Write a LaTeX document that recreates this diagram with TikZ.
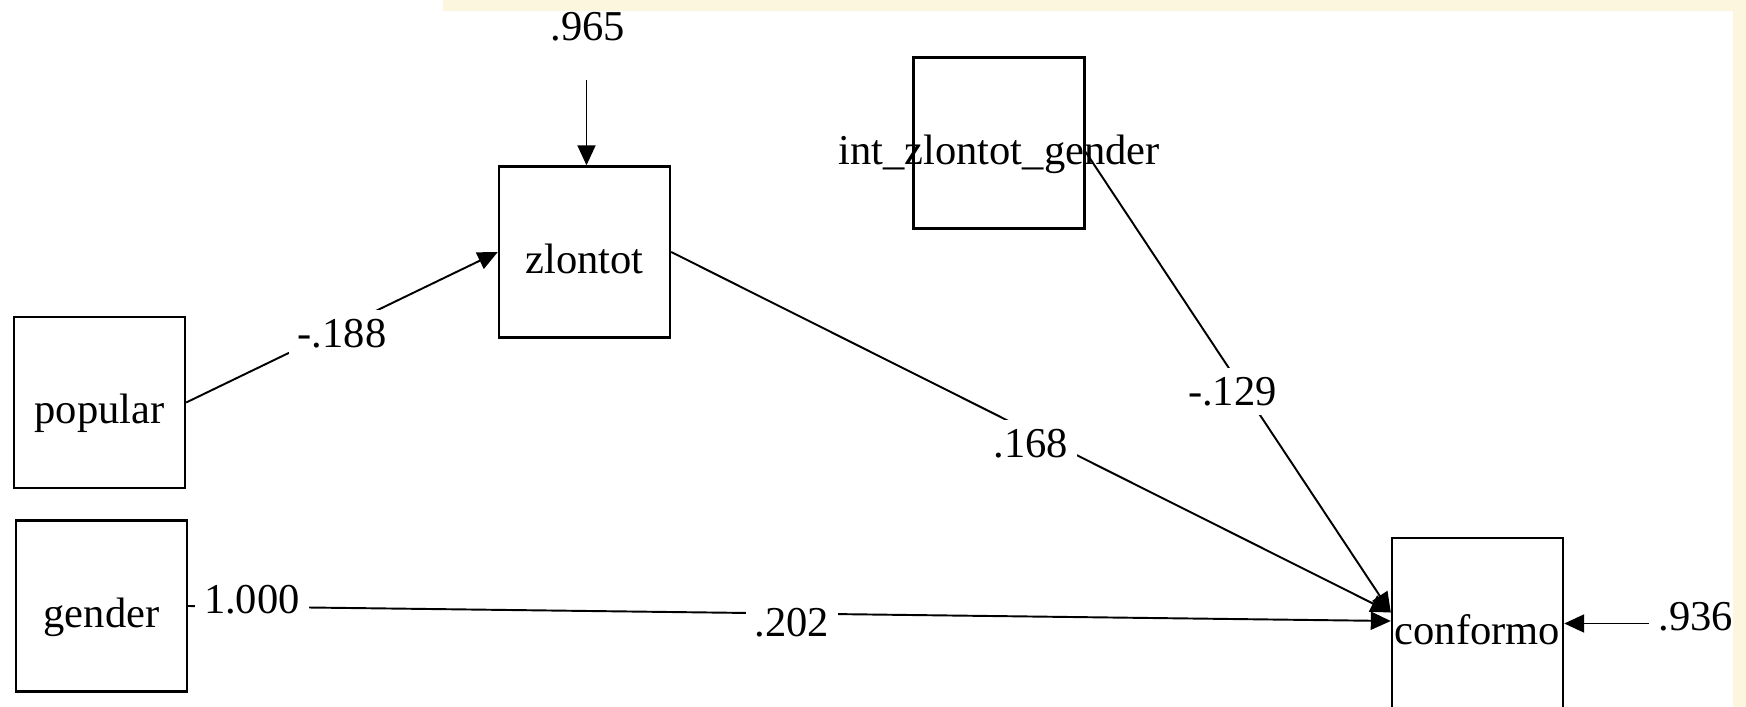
\documentclass[tikz,border=0pt]{standalone}
\usepackage{fontspec}
\setmainfont{Liberation Serif}
\usetikzlibrary{arrows.meta}
\definecolor{cream}{RGB}{253,246,222}

\tikzset{
  var/.style={draw, line width=0.65pt, minimum width=1.71cm, minimum height=1.71cm,
    inner sep=0pt, text height=0.42cm, text depth=0pt},
  effect/.style={draw, line width=0.55pt, -{Triangle[length=0.2cm,width=0.18cm]}},
  coef/.style={fill=white, inner sep=2.5pt}
}

\begin{document}
\begin{tikzpicture}[x=0.01cm, y=-0.01cm, font=\fontsize{12.1}{14.5}\selectfont]
% page with the cream frame
\useasboundingbox (0,0) rectangle (1746,707);
\fill[white] (0,0) rectangle (1746,707);
\fill[cream] (443,0) rectangle (1746,11);
\fill[cream] (1733,0) rectangle (1746,707);

% observed variables
\node[var] (popular) at (99.5,402.5) {popular};
\node[var] (gender) at (101.5,606) {gender};
\node[var] (zlontot) at (584.5,252) {zlontot};
\node[var] (inter) at (999,143) {\makebox[0pt]{int\_zlontot\_gender}};
\node[var] (conformo) at (1477.5,623.5) {conformo};

% residual variances
\node (res1) at (588,27) {.965};
\coordinate (res1a) at (586.5,80);
\node (res2) at (1696,617) {.936};
\coordinate (res2a) at (1649,623.5);
\draw[effect] (res1a) -- (res1a |- zlontot.north);
\draw[effect] (res2a) -- (conformo.east);

% paths
\draw[effect] (popular.east) -- node[coef, yshift=-0.06cm] {-.188} (zlontot.west);
\draw[effect] (zlontot.east) -- node[coef, yshift=-0.11cm] {.168} ([yshift=0.11cm]conformo.west);
\draw[effect] ([yshift=-0.09cm]inter.east) -- node[coef, pos=0.52, xshift=-0.12cm] {-.129} ([yshift=0.11cm]conformo.west);
\draw[effect] (gender.east) -- node[coef, pos=0.053, yshift=0.07cm] {1.000}
  node[coef, pos=0.502, yshift=-0.09cm] {.202} ([yshift=0.025cm]conformo.west);
\end{tikzpicture}
\end{document}
